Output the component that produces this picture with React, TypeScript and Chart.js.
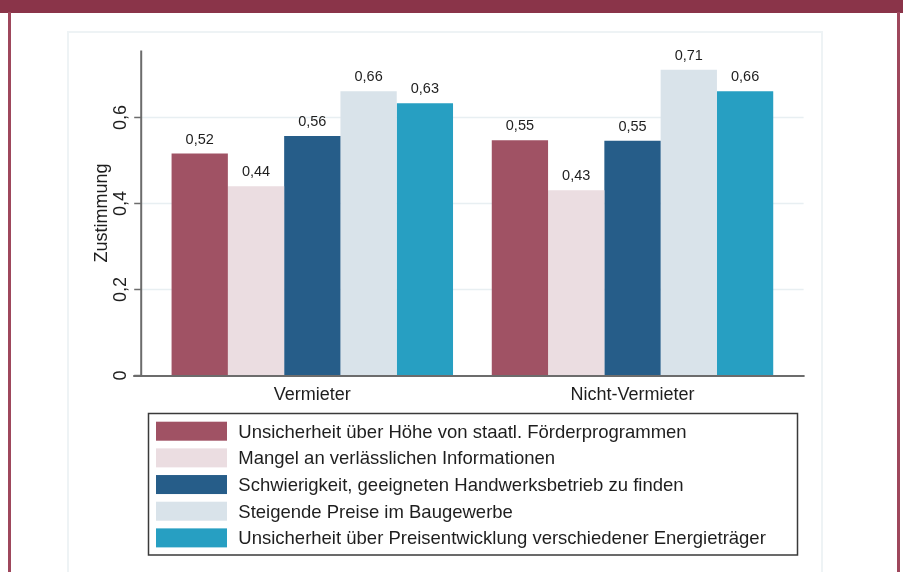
import React, { useEffect, useRef } from "react";
import { Chart, registerables } from "chart.js";

Chart.register(...registerables);

// ---- data ----
const categories = ["Vermieter", "Nicht-Vermieter"];
const seriesLabels = [
  "Unsicherheit über Höhe von staatl. Förderprogrammen",
  "Mangel an verlässlichen Informationen",
  "Schwierigkeit, geeigneten Handwerksbetrieb zu finden",
  "Steigende Preise im Baugewerbe",
  "Unsicherheit über Preisentwicklung verschiedener Energieträger",
];
const seriesColors = ["#A05264", "#EBDDE1", "#265D89", "#D9E3EA", "#279FC2"];
const foerderUnsicherheit = [0.516, 0.547];
const mangelInformationen = [0.44, 0.431];
const handwerksbetrieb = [0.557, 0.546];
const preiseBaugewerbe = [0.661, 0.711];
const energiePreise = [0.633, 0.661];
const seriesValues = [foerderUnsicherheit, mangelInformationen, handwerksbetrieb, preiseBaugewerbe, energiePreise];
const yTicks = [0, 0.2, 0.4, 0.6];
const yTickLabels = ["0", "0,2", "0,4", "0,6"];
const yMin = 0;
const yMax = 0.756;
const yTitle = "Zustimmung";

const FONT = "'Liberation Sans', Arial, Helvetica, sans-serif";
const TEXT = "#1e1e1e";
const AXIS = "#6c6c6c";

const fmt = (v: number) => v.toFixed(2).replace(".", ",");

const stataPlugin = {
  id: "stataDecor",
  beforeDatasetsDraw(chart: any) {
    const { ctx, scales } = chart;
    const y = scales.y;
    const left = chart.chartArea.left - 11;
    const right = chart.chartArea.right + 11;
    ctx.save();
    ctx.strokeStyle = "#E8EFF2";
    ctx.lineWidth = 1.5;
    yTicks.forEach((v) => {
      if (v === 0) return;
      const py = y.getPixelForValue(v);
      ctx.beginPath();
      ctx.moveTo(left, py);
      ctx.lineTo(right, py);
      ctx.stroke();
    });
    ctx.restore();
  },
  afterDatasetsDraw(chart: any) {
    const { ctx, scales } = chart;
    const x = scales.x;
    const y = scales.y;
    const axisX = chart.chartArea.left - 11;
    const right = chart.chartArea.right + 12;
    const y0 = y.getPixelForValue(0);
    ctx.save();
    // data labels
    ctx.fillStyle = TEXT;
    ctx.font = `14.5px ${FONT}`;
    ctx.textAlign = "center";
    ctx.textBaseline = "alphabetic";
    chart.data.datasets.forEach((ds: any, di: number) => {
      const meta = chart.getDatasetMeta(di);
      meta.data.forEach((el: any, i: number) => {
        ctx.fillText(fmt(ds.data[i]), el.x, el.y - 10);
      });
    });
    // axes lines
    ctx.strokeStyle = AXIS;
    ctx.lineWidth = 2;
    ctx.beginPath();
    ctx.moveTo(axisX, y.getPixelForValue(yMax));
    ctx.lineTo(axisX, y0 + 1);
    ctx.stroke();
    ctx.beginPath();
    ctx.moveTo(axisX - 8, y0 + 0.5);
    ctx.lineTo(right, y0 + 0.5);
    ctx.stroke();
    // ticks
    ctx.lineWidth = 1.5;
    yTicks.forEach((v) => {
      const py = y.getPixelForValue(v);
      ctx.beginPath();
      ctx.moveTo(axisX - 7, py);
      ctx.lineTo(axisX, py);
      ctx.stroke();
    });
    // tick labels (rotated)
    ctx.fillStyle = TEXT;
    ctx.font = `18px ${FONT}`;
    yTicks.forEach((v, i) => {
      const py = y.getPixelForValue(v);
      ctx.save();
      ctx.translate(axisX - 15, py);
      ctx.rotate(-Math.PI / 2);
      ctx.textAlign = "center";
      ctx.textBaseline = "alphabetic";
      ctx.fillText(yTickLabels[i], 0, 0);
      ctx.restore();
    });
    // y title
    ctx.save();
    ctx.translate(axisX - 34, (y.getPixelForValue(yMax) + y0) / 2 + 0);
    ctx.rotate(-Math.PI / 2);
    ctx.textAlign = "center";
    ctx.textBaseline = "alphabetic";
    ctx.font = `18px ${FONT}`;
    ctx.fillText(yTitle, 0, 0);
    ctx.restore();
    // category labels
    ctx.font = `18px ${FONT}`;
    ctx.textAlign = "center";
    ctx.textBaseline = "alphabetic";
    categories.forEach((c, i) => {
      ctx.fillText(c, x.getPixelForValue(i), y0 + 24.5);
    });
    ctx.restore();
  },
  afterDraw(chart: any) {
    const { ctx } = chart;
    const bx = 148.5;
    const by = 413.5;
    const bw = 649;
    const bh = 141.5;
    ctx.save();
    ctx.strokeStyle = "#3a3a3a";
    ctx.lineWidth = 1.5;
    ctx.strokeRect(bx, by, bw, bh);
    ctx.font = `18.5px ${FONT}`;
    ctx.textAlign = "left";
    ctx.textBaseline = "alphabetic";
    chart.data.datasets.forEach((ds: any, i: number) => {
      const top = 421.7 + i * 26.67;
      ctx.fillStyle = ds.backgroundColor;
      ctx.fillRect(156, top, 71, 19);
      ctx.fillStyle = TEXT;
      ctx.fillText(ds.label, 238.3, top + 16);
    });
    ctx.restore();
  },
};

function ChartCanvas() {
  const ref = useRef<HTMLCanvasElement | null>(null);
  useEffect(() => {
    if (!ref.current) return;
    const chart = new Chart(ref.current, {
      type: "bar",
      data: {
        labels: categories,
        datasets: seriesLabels.map((label, i) => ({
          label,
          data: seriesValues[i],
          backgroundColor: seriesColors[i],
          borderWidth: 0,
          categoryPercentage: 0.879,
          barPercentage: 1,
        })),
      },
      options: {
        responsive: false,
        animation: false,
        devicePixelRatio: 1,
        layout: {
          padding: { left: 152.2, right: 110.4, top: 50.4, bottom: 196.5 },
        },
        scales: {
          x: { display: false, offset: true, grid: { display: false } },
          y: { display: false, min: yMin, max: yMax },
        },
        plugins: {
          legend: { display: false },
          tooltip: { enabled: false },
          title: { display: false },
        },
      },
      plugins: [stataPlugin],
    });
    return () => chart.destroy();
  }, []);
  return (
    <canvas
      ref={ref}
      width={903}
      height={572}
      style={{ position: "absolute", left: 0, top: 0, width: 903, height: 572 }}
    />
  );
}

export default function App() {
  return (
    <div
      style={{
        position: "fixed",
        left: 0,
        top: 0,
        width: 903,
        height: 572,
        background: "#ffffff",
        overflow: "hidden",
      }}
    >
      <div style={{ position: "absolute", left: 0, top: 0, width: 903, height: 12.7, background: "#8A3449" }} />
      <div style={{ position: "absolute", left: 8, top: 12, width: 3, height: 560, background: "#9E475C" }} />
      <div style={{ position: "absolute", left: 897, top: 12, width: 3, height: 560, background: "#9E475C" }} />
      <div
        style={{
          position: "absolute",
          left: 67,
          top: 31,
          width: 752,
          height: 560,
          border: "2px solid #EEF3F5",
        }}
      />
      <ChartCanvas />
    </div>
  );
}
